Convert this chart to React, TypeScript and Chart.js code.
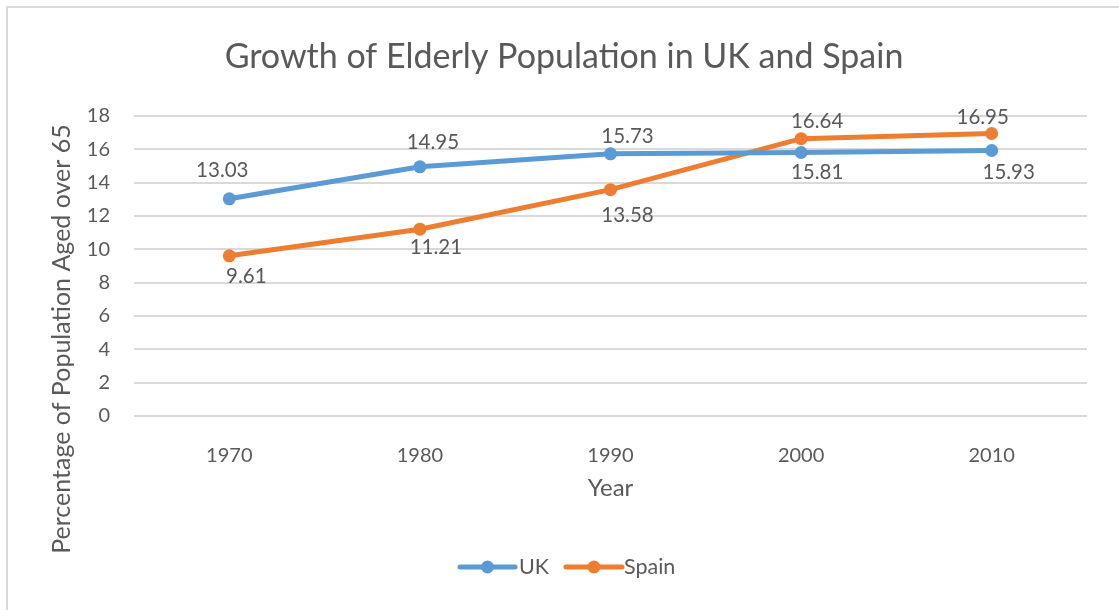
import { useEffect, useRef } from "react";
import { Chart, registerables } from "chart.js";

Chart.register(...registerables);

// ---- data ----
const years = ["1970", "1980", "1990", "2000", "2010"];
const ukValues = [13.03, 14.95, 15.73, 15.81, 15.93];
const spainValues = [9.61, 11.21, 13.58, 16.64, 16.95];
const yTickMin = 0;
const yTickMax = 18;
const yTickStep = 2;

const chartTitle = "Growth of Elderly Population in UK and Spain";
const xAxisTitle = "Year";
const yAxisTitle = "Percentage of Population Aged over 65";
const seriesNames = ["UK", "Spain"];

// ---- styling ----
const UK_COLOR = "#5B9BD5";
const SPAIN_COLOR = "#ED7D31";
const TEXT_COLOR = "#595959";
const GRID_COLOR = "#D9D9D9";
const FONT = "Lato, 'Open Sans', sans-serif";

// value-label placement: [dx, dy] from each point to the label centre
const ukLabelNudge = [
  [-7, -28],
  [13, -24],
  [17, -17],
  [16, 20],
  [17, 22],
];
const spainLabelNudge = [
  [17, 21],
  [16, 18],
  [17, 26],
  [16, -17],
  [-9, -16],
];

const decorations = {
  id: "decorations",
  afterDatasetsDraw(chart: any) {
    const ctx = chart.ctx as CanvasRenderingContext2D;
    const area = chart.chartArea;
    ctx.save();

    // chart frame
    ctx.strokeStyle = GRID_COLOR;
    ctx.lineWidth = 2;
    ctx.strokeRect(7, 7, 1300, 800);

    ctx.fillStyle = TEXT_COLOR;

    // title
    ctx.font = `34px ${FONT}`;
    ctx.textAlign = "center";
    ctx.textBaseline = "alphabetic";
    ctx.fillText(chartTitle, 564, 68);

    // x axis title
    ctx.font = `24px ${FONT}`;
    ctx.fillText(xAxisTitle, (area.left + area.right) / 2, 496);

    // y axis title
    ctx.save();
    ctx.font = `25px ${FONT}`;
    ctx.translate(70, 339);
    ctx.rotate(-Math.PI / 2);
    ctx.fillText(yAxisTitle, 0, 0);
    ctx.restore();

    // value labels
    ctx.font = `20.5px ${FONT}`;
    ctx.textBaseline = "middle";
    const nudges = [ukLabelNudge, spainLabelNudge];
    chart.data.datasets.forEach((ds: any, di: number) => {
      const meta = chart.getDatasetMeta(di);
      meta.data.forEach((pt: any, i: number) => {
        const [dx, dy] = nudges[di][i];
        ctx.fillText(ds.data[i].toFixed(2), pt.x + dx, pt.y + dy);
      });
    });

    // legend
    const legendY = 567;
    const items = [
      { name: seriesNames[0], color: UK_COLOR, x0: 460, x1: 515, text: 519 },
      { name: seriesNames[1], color: SPAIN_COLOR, x0: 566, x1: 622, text: 624 },
    ];
    ctx.font = `21.5px ${FONT}`;
    items.forEach((it) => {
      ctx.strokeStyle = it.color;
      ctx.lineWidth = 5;
      ctx.lineCap = "round";
      ctx.beginPath();
      ctx.moveTo(it.x0, legendY);
      ctx.lineTo(it.x1, legendY);
      ctx.stroke();
      ctx.fillStyle = it.color;
      ctx.beginPath();
      ctx.arc((it.x0 + it.x1) / 2, legendY, 6.5, 0, Math.PI * 2);
      ctx.fill();
      ctx.fillStyle = TEXT_COLOR;
      ctx.textAlign = "left";
      ctx.textBaseline = "middle";
      ctx.fillText(it.name, it.text, legendY);
    });

    ctx.restore();
  },
};

export default function App() {
  const canvasRef = useRef<HTMLCanvasElement | null>(null);

  useEffect(() => {
    if (!canvasRef.current) return;
    const chart = new Chart(canvasRef.current, {
      type: "line",
      data: {
        labels: years,
        datasets: [
          {
            label: seriesNames[0],
            data: ukValues,
            borderColor: UK_COLOR,
            backgroundColor: UK_COLOR,
            borderWidth: 5,
            pointRadius: 6.5,
            pointBorderWidth: 0,
            pointBackgroundColor: UK_COLOR,
            tension: 0,
          },
          {
            label: seriesNames[1],
            data: spainValues,
            borderColor: SPAIN_COLOR,
            backgroundColor: SPAIN_COLOR,
            borderWidth: 5,
            pointRadius: 6.5,
            pointBorderWidth: 0,
            pointBackgroundColor: SPAIN_COLOR,
            tension: 0,
          },
        ],
      },
      options: {
        animation: false,
        responsive: false,
        devicePixelRatio: 1,
        layout: { padding: { top: 116, right: 32, left: 0, bottom: 0 } },
        plugins: {
          legend: { display: false },
          title: { display: false },
          tooltip: { enabled: false },
        },
        scales: {
          x: {
            offset: true,
            grid: { display: false },
            border: { display: false },
            ticks: {
              color: TEXT_COLOR,
              font: { family: FONT, size: 20 },
              padding: 20,
            },
            afterFit: (scale: any) => {
              scale.height = 194;
            },
          },
          y: {
            min: yTickMin,
            max: yTickMax,
            grid: { color: GRID_COLOR, lineWidth: 2, drawTicks: false },
            border: { display: false },
            ticks: {
              stepSize: yTickStep,
              color: TEXT_COLOR,
              font: { family: FONT, size: 20 },
              padding: 24,
            },
            afterFit: (scale: any) => {
              scale.width = 134;
            },
          },
        },
      },
      plugins: [decorations],
    });
    return () => chart.destroy();
  }, []);

  return (
    <div style={{ position: "absolute", left: 0, top: 0, width: 1119, height: 610, background: "#fff" }}>
      <canvas ref={canvasRef} width={1119} height={610} />
    </div>
  );
}
